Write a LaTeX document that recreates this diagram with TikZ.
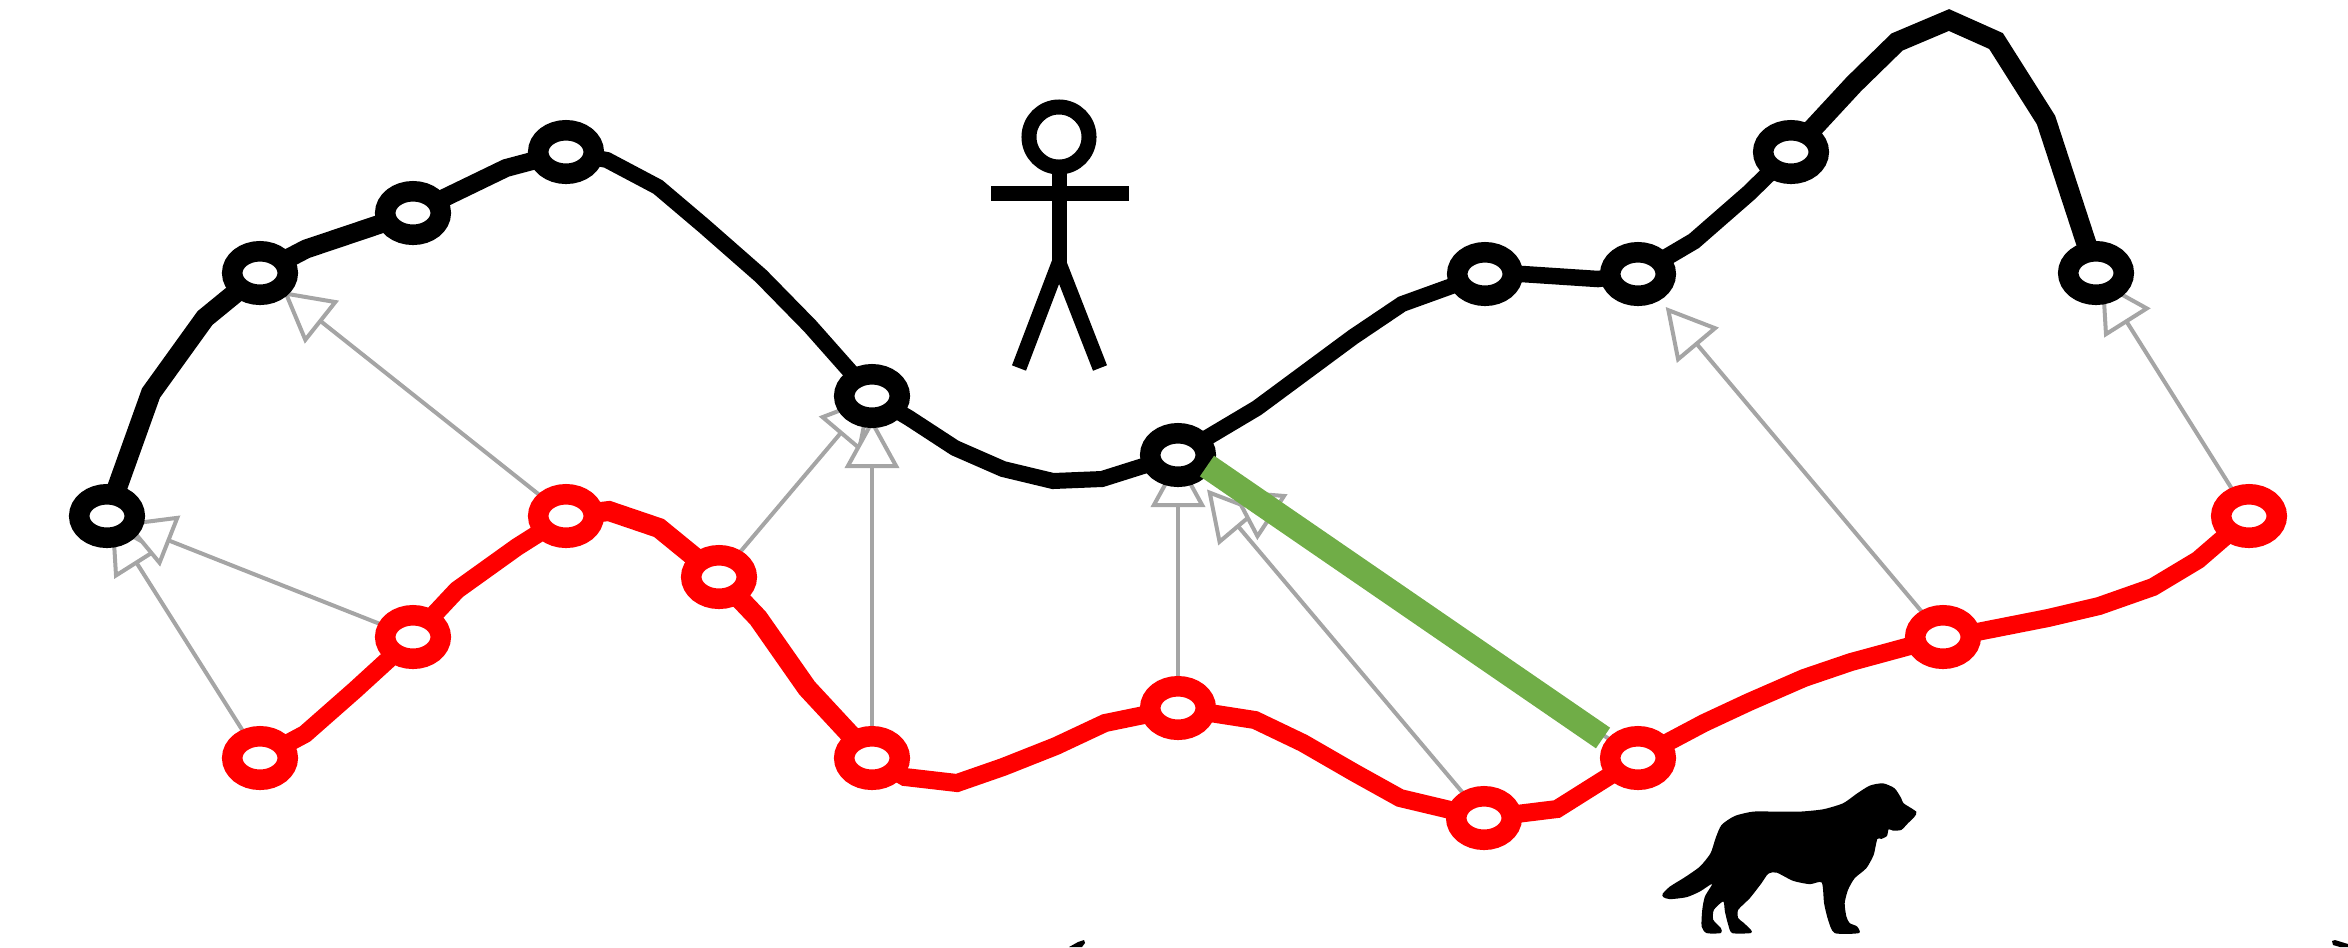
\documentclass[tikz,border=0pt]{standalone}
\usepackage{tikz}
\usetikzlibrary{arrows.meta,backgrounds,shapes.geometric}
\definecolor{linkgrey}{HTML}{A5A5A5}
\definecolor{bridgegreen}{HTML}{70AD47}
\tikzset{
	pt/.style={ellipse,draw,fill=white,inner sep=0pt,outer sep=0pt,minimum width=0.555cm,minimum height=0.435cm,line width=0.205cm},
	blackpt/.style={pt,draw=black},
	redpt/.style={pt,draw=red},
	blackline/.style={draw=black,line width=0.16cm},
	redline/.style={draw=red,line width=0.18cm},
	link/.style={draw=linkgrey,line width=0.04cm,-{Triangle[length=0.5cm,width=0.54cm,fill=white]}},
	figureline/.style={draw=black,line width=0.15cm}
}

\begin{document}
\begin{tikzpicture}[x=0.01cm,y=-0.01cm]
	\useasboundingbox (0,0) rectangle (2348,947);
	\node[blackpt] (b1) at (107,516) {};
	\node[blackpt] (b2) at (260,273) {};
	\node[blackpt] (b3) at (413,213) {};
	\node[blackpt] (b4) at (566,152) {};
	\node[blackpt] (b5) at (872,396) {};
	\node[blackpt] (b6) at (1178,455) {};
	\node[blackpt] (b7) at (1485,274) {};
	\node[blackpt] (b8) at (1638,274) {};
	\node[blackpt] (b9) at (1791,152) {};
	\node[blackpt] (b10) at (2096,273) {};
	%
	\node[redpt] (r1) at (260,758) {};
	\node[redpt] (r2) at (413,637) {};
	\node[redpt] (r3) at (566,516) {};
	\node[redpt] (r4) at (719,577) {};
	\node[redpt] (r5) at (872,758) {};
	\node[redpt] (r6) at (1178,708) {};
	\node[redpt] (r7) at (1484,818) {};
	\node[redpt] (r8) at (1638,758) {};
	\node[redpt] (r9) at (1943,637) {};
	\node[redpt] (r10) at (2249,516) {};
	%
	\begin{scope}[on background layer]
		\draw [link,shorten >=0.07cm] (r1.center) to (b1.center);
		\draw [link,shorten >=0.18cm] (r2.center) to (b1.center);
		\draw [link,shorten >=0.29cm] (r3.center) to (b2.center);
		\draw [link,shorten >=0cm] (r4.center) to (b5.center);
		\draw [link,shorten >=0.22cm] (r5.center) to (b5.center);
		\draw [link,shorten >=0.02cm] (r6.center) to (b6.center);
		\draw [link,shorten >=0.45cm] (r7.center) to (b6.center);
		\draw [link,shorten >=0.63cm] (r8.center) to (b6.center);
		\draw [link,shorten >=0.43cm] (r9.center) to (b8.center);
		\draw [link,shorten >=0.09cm] (r10.center) to (b10.center);
		%
		\draw [blackline,line width=0.2cm] (b1) -- (151,393) -- (205,318) -- (b2);
		\draw [blackline,line width=0.19cm] (b2) -- (306,249) -- (b3);
		\draw [blackline,line width=0.18cm] (b3) -- (506,168) -- (b4);
		\draw [blackline] (b4) -- (607,160) -- (658,187) -- (704,226) -- (761,276) -- (810,326) -- (b5);
		\draw [blackline] (b5) -- (909,418) -- (955,448) -- (1003,469) -- (1053,481) -- (1102,479) -- (b6);
		\draw [blackline] (b6) -- (1257,408) -- (1353,337) -- (1402,304) -- (b7);
		\draw [blackline,line width=0.165cm] (b7) -- (1522,274) -- (1598,279) -- (b8);
		\draw [blackline,line width=0.17cm] (b8) -- (1694,241) -- (1749,193) -- (b9);
		\draw [blackline,line width=0.2cm] (b9) -- (1854,84) -- (1897,42) -- (1949,20) -- (1996,41) -- (2046,120) -- (b10);
		%
		\draw [redline] (r1) -- (305,734) -- (355,690) -- (r2);
		\draw [redline] (r2) -- (457,590) -- (517,547) -- (r3);
		\draw [redline,line width=0.2cm] (r3) -- (609,511) -- (659,528) -- (r4);
		\draw [redline,line width=0.2cm] (r4) -- (758,618) -- (807,688) -- (r5);
		\draw [redline] (r5) -- (905,777) -- (957,783) -- (1003,767) -- (1056,746) -- (1105,723) -- (r6);
		\draw [redline] (r6) -- (1255,720) -- (1303,743) -- (1355,773) -- (1400,798) -- (r7);
		\draw [redline] (r7) -- (1557,809) -- (r8);
		\draw [redline] (r8) -- (1704,723) -- (1749,702) -- (1804,678) -- (1851,662) -- (r9);
		\draw [redline] (r9) -- (1977,632) -- (2048,618) -- (2099,606) -- (2153,587) -- (2198,560) -- (r10);
	\end{scope}
	%
	\coordinate (bridgea) at (1207,466);
	\coordinate (bridgeb) at (1603,738);
	\draw [draw=bridgegreen,line width=0.25cm] (bridgea) -- (bridgeb);
	%
	\node[circle,draw,inner sep=0pt,outer sep=0pt,minimum size=0.6cm,line width=0.15cm] (head) at (1059,137) {};
	\coordinate (hip) at (1059,263);
	\coordinate (lhand) at (991,193);
	\coordinate (rhand) at (1129,193);
	\coordinate (lfoot) at (1019,368);
	\coordinate (rfoot) at (1100,368);
	\draw [figureline] (head) -- (hip);
	\draw [figureline] (lhand) -- (rhand);
	\draw [figureline] (lfoot) -- (hip) -- (rfoot);
	%
	\begin{scope}[shift={(1650,770)},x=0.00333cm,y=-0.00333cm]
		\fill[black] plot[smooth cycle,tension=0.4] coordinates {(38,372) (60,350) (105,322) (150,290) (182,250) (197,205) (215,165) (255,138) (310,125) (380,125) (450,125) (520,118) (580,100) (620,72) (660,47) (700,40) (735,55) (755,85) (762,100) (800,125) (795,140) (775,160) (755,180) (730,182) (717,178) (712,198) (695,207) (683,207) (672,255) (650,295) (615,325) (595,360) (585,400) (590,440) (600,460) (622,470) (628,490) (555,490) (535,450) (523,400) (516,338) (480,343) (430,333) (380,308) (355,312) (335,340) (300,385) (265,420) (265,445) (280,458) (303,480) (303,490) (247,490) (235,465) (225,425) (220,395) (192,420) (190,450) (213,475) (213,490) (170,490) (155,470) (157,420) (165,380) (187,342) (150,365) (110,382) (60,388) (40,382)};
	\end{scope}
	%
	\fill[black] (1069,947) -- (1078,942) -- (1084,940) -- (1085,943) -- (1082,947) -- cycle;
	\fill[black] (2332,941) -- (2335,940) -- (2348,944) -- (2348,947) -- (2340,947) -- (2333,945) -- cycle;
\end{tikzpicture}
\end{document}
